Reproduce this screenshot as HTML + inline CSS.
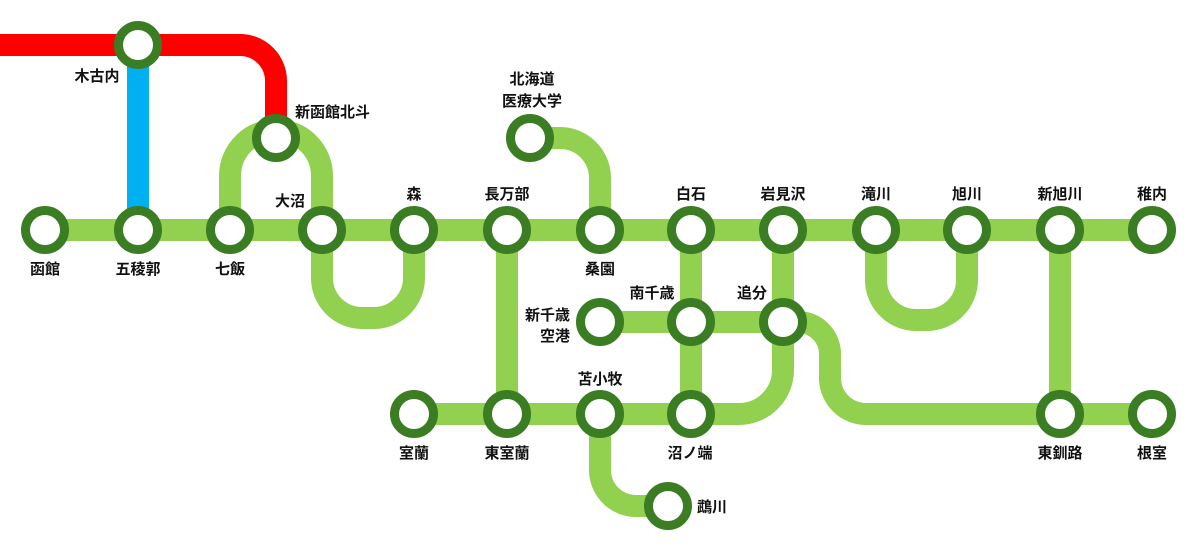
<!DOCTYPE html>
<html><head><meta charset="utf-8"><style>
html,body{margin:0;padding:0;background:#fff;}
svg text{font-family:"Liberation Sans","Noto Sans CJK JP",sans-serif;font-size:15px;font-weight:bold;fill:#111;}
</style></head><body>
<svg width="1200" height="554" viewBox="0 0 1200 554" xmlns="http://www.w3.org/2000/svg">
<g fill="none" stroke-linejoin="round">
<path d="M0 45 H240 A36 36 0 0 1 276 81 V138" stroke="#ff0000" stroke-width="22"/>
<path d="M138 45 V230" stroke="#00b0f0" stroke-width="22"/>
<g stroke="#92d050" stroke-width="22">
<path d="M45 230 H1152"/>
<path d="M230 230 V176 A46 46 0 0 1 322 176 V230"/>
<path d="M322 230 V278 A40 40 0 0 0 362 318 H374 A40 40 0 0 0 414 278 V230"/>
<path d="M530 138 H560 A40 40 0 0 1 600 178 V230"/>
<path d="M507 230 V414"/>
<path d="M691 230 V414"/>
<path d="M783 230 V370 A44 44 0 0 1 739 414 H691"/>
<path d="M876 230 V280 A40 40 0 0 0 916 320 H927 A40 40 0 0 0 967 280 V230"/>
<path d="M1060 230 V414"/>
<path d="M600 322 H783"/>
<path d="M783 322 H798 A32 32 0 0 1 830 354 V378 A36 36 0 0 0 866 414 H1152"/>
<path d="M414 414 H691"/>
<path d="M600 414 V470 A36 36 0 0 0 636 506 H668"/>
</g>
<g stroke="#3a7d22" stroke-width="9" fill="#fff">
<circle cx="138" cy="45" r="19.5"/>
<circle cx="276" cy="138" r="19.5"/>
<circle cx="530" cy="138" r="19.5"/>
<circle cx="45" cy="230" r="19.5"/>
<circle cx="138" cy="230" r="19.5"/>
<circle cx="230" cy="230" r="19.5"/>
<circle cx="322" cy="230" r="19.5"/>
<circle cx="414" cy="230" r="19.5"/>
<circle cx="507" cy="230" r="19.5"/>
<circle cx="600" cy="230" r="19.5"/>
<circle cx="691" cy="230" r="19.5"/>
<circle cx="783" cy="230" r="19.5"/>
<circle cx="876" cy="230" r="19.5"/>
<circle cx="967" cy="230" r="19.5"/>
<circle cx="1060" cy="230" r="19.5"/>
<circle cx="1152" cy="230" r="19.5"/>
<circle cx="600" cy="322" r="19.5"/>
<circle cx="691" cy="322" r="19.5"/>
<circle cx="783" cy="322" r="19.5"/>
<circle cx="414" cy="414" r="19.5"/>
<circle cx="507" cy="414" r="19.5"/>
<circle cx="600" cy="414" r="19.5"/>
<circle cx="691" cy="414" r="19.5"/>
<circle cx="1060" cy="414" r="19.5"/>
<circle cx="1152" cy="414" r="19.5"/>
<circle cx="668" cy="506" r="19.5"/>
</g>
</g>
<g text-anchor="middle">
<text x="97" y="81">木古内</text>
<text x="45" y="274">函館</text>
<text x="138" y="274">五稜郭</text>
<text x="230" y="274">七飯</text>
<text x="290" y="206">大沼</text>
<text x="414" y="199">森</text>
<text x="507" y="199">長万部</text>
<text x="532" y="84">北海道</text>
<text x="532" y="106">医療大学</text>
<text x="600" y="274">桑園</text>
<text x="691" y="199">白石</text>
<text x="783" y="199">岩見沢</text>
<text x="876" y="199">滝川</text>
<text x="967" y="199">旭川</text>
<text x="1060" y="199">新旭川</text>
<text x="1152" y="199">稚内</text>
<text x="652" y="298">南千歳</text>
<text x="752" y="298">追分</text>
<text x="600" y="384">苫小牧</text>
<text x="414" y="458">室蘭</text>
<text x="507" y="458">東室蘭</text>
<text x="690" y="458">沼ノ端</text>
<text x="1060" y="458">東釧路</text>
<text x="1152" y="458">根室</text>
</g>
<text x="295" y="117">新函館北斗</text>
<text x="570" y="320" text-anchor="end">新千歳</text>
<text x="570" y="341" text-anchor="end">空港</text>
<text x="697" y="512">鵡川</text>
</svg>
</body></html>
